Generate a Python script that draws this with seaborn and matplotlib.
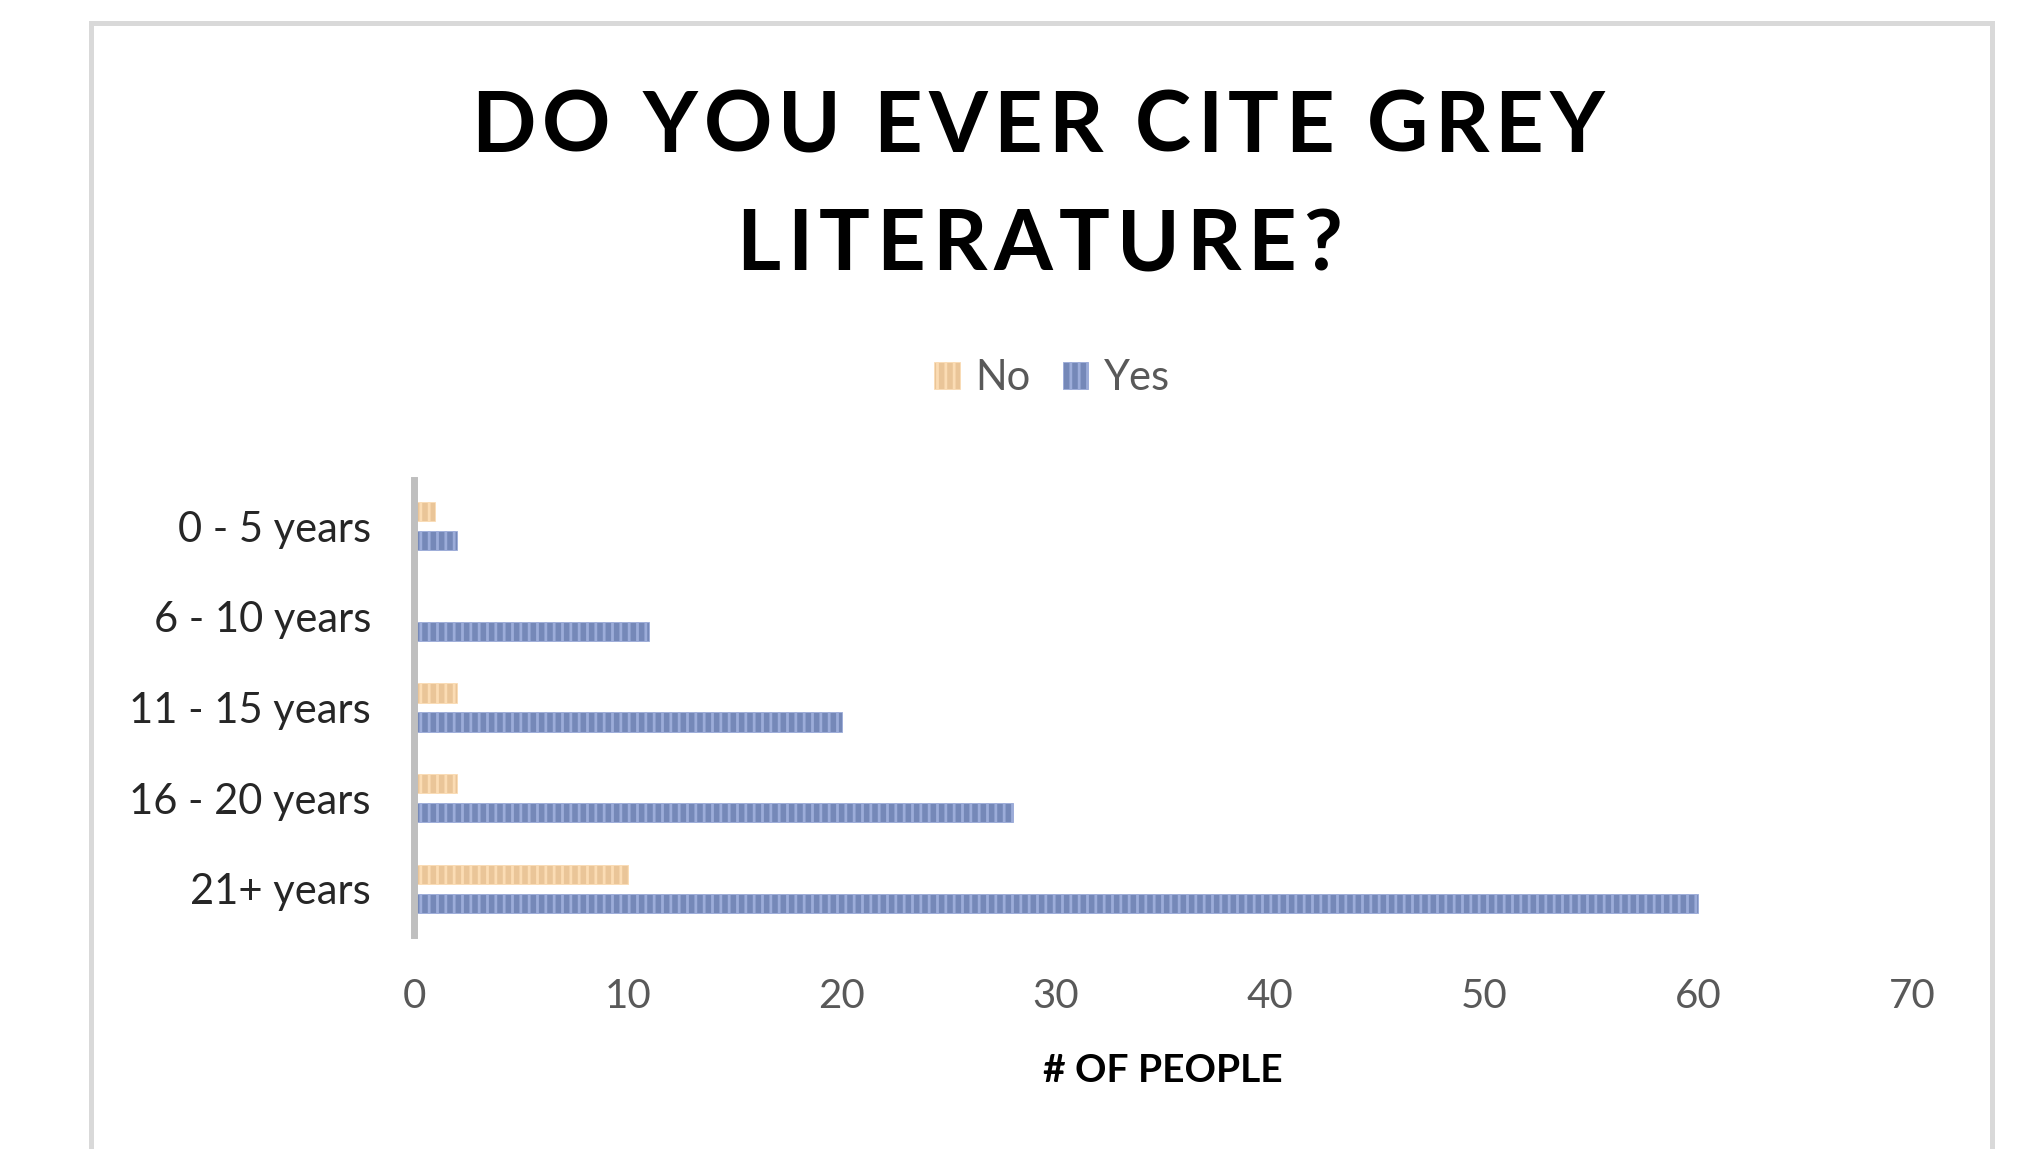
import matplotlib
matplotlib.use("Agg")
import matplotlib.pyplot as plt
import seaborn as sns
import pandas as pd
from matplotlib.patches import Rectangle
from matplotlib.font_manager import FontProperties

categories = ["0 - 5 years", "6 - 10 years", "11 - 15 years", "16 - 20 years", "21+ years"]
no_values = [1, 0, 2, 2, 10]
yes_values = [2, 11, 20, 28, 60]
series = ["No", "Yes"]
x_ticks = [0, 10, 20, 30, 40, 50, 60, 70]
title_lines = ["DO YOU EVER CITE GREY", "LITERATURE?"]

df = pd.DataFrame({
    "Experience": categories * 2,
    "Answer": ["No"] * len(categories) + ["Yes"] * len(categories),
    "People": no_values + yes_values,
})

sns.set_theme(style="white")
plt.rcParams["font.family"] = ["Lato", "DejaVu Sans"]
plt.rcParams["hatch.linewidth"] = 2.0

W, H = 2027, 1149
fig = plt.figure(figsize=(W / 100, H / 100), dpi=100)
ax = fig.add_axes([414 / W, 1 - 935 / H, (1912 - 414) / W, (935 - 480) / H])

face = {"No": "#F8C68A", "Yes": "#6A83C3"}
stripe = {"No": "#FBDCB4", "Yes": "#9CACD9"}

sns.barplot(data=df, y="Experience", x="People", hue="Answer", order=categories,
            hue_order=series, palette=face, orient="h", width=0.64, gap=0.33,
            ax=ax, legend=False, linewidth=0)

for cont, s in zip(ax.containers, series):
    for p in cont:
        p.set_hatch("||")
        p.set_edgecolor(stripe[s])
        p.set_linewidth(0.6)

ax.set_xlim(0, 70)
ax.set_ylim(4.51, -0.51)
ax.set_xticks(x_ticks)
ax.set_xticklabels([str(t) for t in x_ticks])
ax.tick_params(axis="x", length=0, pad=31, labelsize=29, labelcolor="#595959")
ax.tick_params(axis="y", length=0, pad=31, labelsize=30, labelcolor="#262626")
for side in ["top", "right", "bottom"]:
    ax.spines[side].set_visible(False)
ax.spines["left"].set_color("#BFBFBF")
ax.spines["left"].set_linewidth(5)
ax.set_ylabel("")
ax.set_xlabel("# OF PEOPLE", fontsize=28, fontweight="bold", color="#000000", labelpad=27)

# Letter-spaced title
renderer = fig.canvas.get_renderer()
tprop = FontProperties(family=["Lato", "DejaVu Sans"], weight="bold", size=61)


def text_w(t):
    if not t:
        return 0.0
    a = renderer.get_text_width_height_descent(t + "|", tprop, ismath=False)[0]
    b = renderer.get_text_width_height_descent("|", tprop, ismath=False)[0]
    return a - b


def spaced(line, x_left, x_right, y_base):
    natural = renderer.get_text_width_height_descent(line, tprop, ismath=False)[0]
    sp = (x_right - x_left - natural) / max(len(line) - 1, 1)
    for i, ch in enumerate(line):
        if ch == " ":
            continue
        x = x_left + text_w(line[:i]) + i * sp
        fig.text(x / W, 1 - y_base / H, ch, ha="left", va="baseline",
                 fontproperties=tprop, color="#000000")


spaced(title_lines[0], 471, 1604, 152)
spaced(title_lines[1], 736, 1342, 270)

fig.legend(ax.containers, series, loc="center", bbox_to_anchor=(1052 / W, 1 - 378 / H),
           ncol=2, frameon=False, fontsize=30, labelcolor="#595959",
           handlelength=0.62, handleheight=0.6, handletextpad=0.36, columnspacing=0.77,
           borderpad=0)

fig.patches.append(Rectangle((90.5 / W, -0.2), (1991.5 - 90.5) / W, 1.2 - 22.5 / H,
                             transform=fig.transFigure, fill=False,
                             edgecolor="#D9D9D9", linewidth=3.6, zorder=0))

fig.savefig("out.png", dpi=100)
